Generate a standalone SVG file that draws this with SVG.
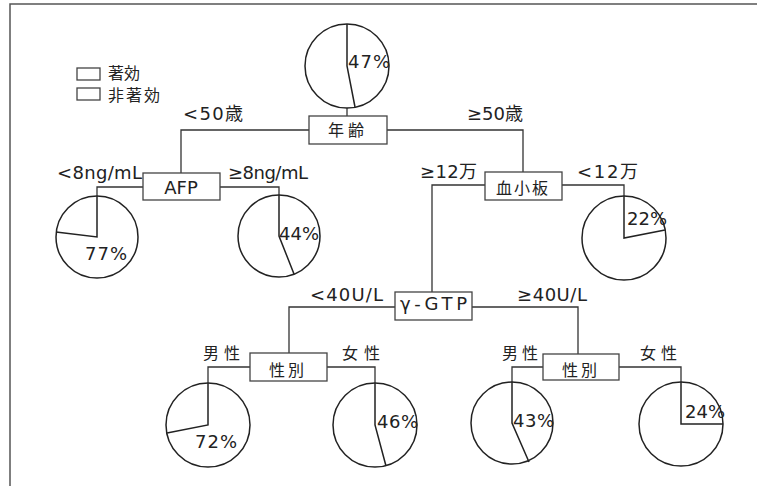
<svg xmlns="http://www.w3.org/2000/svg" width="757" height="486" viewBox="0 0 757 486">
<style>
.frame{fill:none;stroke:#555;stroke-width:1.5}
.conn{fill:none;stroke:#333;stroke-width:1.3}
.box{fill:#fff;stroke:#444;stroke-width:1.3}
.pie{fill:#fff;stroke:#222;stroke-width:1.5}
.rad{fill:none;stroke:#222;stroke-width:1.5}
.lbl{font-family:"DejaVu Sans","Noto Sans CJK JP",sans-serif;font-size:18px;fill:#222}
.cjk{font-family:"Noto Sans CJK JP","DejaVu Sans",sans-serif;font-size:16px;fill:#222}
.pct{font-family:"DejaVu Sans",sans-serif;font-size:18px;fill:#222}
</style>
<rect width="757" height="486" fill="#fff"/>
<path class="frame" d="M10,486 V4 H757"/>

<g id="legend">
<rect class="box" x="77" y="68" width="23" height="12"/>
<rect class="box" x="77" y="88" width="23" height="12"/>
<text class="cjk" x="108" y="79" font-size="14">著効</text>
<text class="cjk" x="108" y="101" font-size="15" letter-spacing="2">非著効</text>
</g>

<g id="connectors">
<path class="conn" d="M347,108 V116"/>
<path class="conn" d="M309,130 H181 V173"/>
<path class="conn" d="M387,130 H523 V172"/>
<path class="conn" d="M143,187 H97 V196"/>
<path class="conn" d="M220,187 H279 V195"/>
<path class="conn" d="M485,185 H432 V292"/>
<path class="conn" d="M562,185 H624 V196"/>
<path class="conn" d="M395,307 H289 V353"/>
<path class="conn" d="M472,307 H578 V354"/>
<path class="conn" d="M250,367 H208 V383"/>
<path class="conn" d="M327,367 H375 V383"/>
<path class="conn" d="M543,367 H512 V382"/>
<path class="conn" d="M619,367 H681 V382"/>
</g>

<g id="edge-labels">
<text class="lbl" x="183" y="120" textLength="60">&lt;50歳</text>
<text class="lbl" x="467" y="120" textLength="56">≥50歳</text>
<text class="lbl" x="57" y="179" textLength="85">&lt;8ng/mL</text>
<text class="lbl" x="228" y="179" textLength="80">≥8ng/mL</text>
<text class="lbl" x="420" y="178" textLength="57">≥12万</text>
<text class="lbl" x="577" y="178" textLength="61">&lt;12万</text>
<text class="lbl" x="310" y="301" textLength="73">&lt;40U/L</text>
<text class="lbl" x="517" y="301" textLength="70">≥40U/L</text>
<text class="cjk" x="203" y="359" font-size="17" textLength="37">男性</text>
<text class="cjk" x="342" y="359" font-size="17" textLength="38">女性</text>
<text class="cjk" x="502" y="359" font-size="17" textLength="36">男性</text>
<text class="cjk" x="640" y="359" font-size="17" textLength="37">女性</text>
</g>

<g id="pie-all">
<circle class="pie" cx="347" cy="66" r="42"/>
<polyline class="rad" points="347,24 347,66 355,107"/>
<text class="pct" x="348" y="68" textLength="42">47%</text>
</g>

<g id="node-age">
<rect class="box" x="309" y="116" width="78" height="28"/>
<text class="cjk" x="348" y="136" text-anchor="middle" letter-spacing="4">年齢</text>
</g>

<g id="node-afp">
<rect class="box" x="143" y="173" width="77" height="27"/>
<text class="lbl" x="181" y="194" text-anchor="middle">AFP</text>
</g>

<g id="pie-afp-low">
<circle class="pie" cx="97" cy="237" r="41"/>
<polyline class="rad" points="97,196 97,237 56,232"/>
<text class="pct" x="85" y="260" textLength="42">77%</text>
</g>

<g id="pie-afp-high">
<circle class="pie" cx="279" cy="236" r="41"/>
<polyline class="rad" points="279,195 279,236 294,274"/>
<text class="pct" x="279" y="240" textLength="40">44%</text>
</g>

<g id="node-plt">
<rect class="box" x="485" y="172" width="77" height="28"/>
<text class="cjk" x="523" y="194" text-anchor="middle" letter-spacing="2">血小板</text>
</g>

<g id="pie-plt-low">
<circle class="pie" cx="624" cy="238" r="42"/>
<polyline class="rad" points="624,196 624,238 665,230"/>
<text class="pct" x="627" y="225" textLength="40">22%</text>
</g>

<g id="node-ggtp">
<rect class="box" x="395" y="292" width="77" height="28"/>
<text class="lbl" x="400" y="310" textLength="67">γ-GTP</text>
</g>

<g id="node-sex-left">
<rect class="box" x="250" y="353" width="77" height="28"/>
<text class="cjk" x="288" y="376" text-anchor="middle" letter-spacing="3">性別</text>
</g>

<g id="pie-left-male">
<circle class="pie" cx="208" cy="425" r="42"/>
<polyline class="rad" points="208,383 208,425 167,433"/>
<text class="pct" x="195" y="448" textLength="42">72%</text>
</g>

<g id="pie-left-female">
<circle class="pie" cx="375" cy="425" r="42"/>
<polyline class="rad" points="375,383 375,425 386,466"/>
<text class="pct" x="377" y="428" textLength="41">46%</text>
</g>

<g id="node-sex-right">
<rect class="box" x="543" y="354" width="76" height="26"/>
<text class="cjk" x="581" y="376" text-anchor="middle" letter-spacing="3">性別</text>
</g>

<g id="pie-right-male">
<circle class="pie" cx="512" cy="423" r="41"/>
<polyline class="rad" points="512,382 512,423 529,462"/>
<text class="pct" x="513" y="427" textLength="41">43%</text>
</g>

<g id="pie-right-female">
<circle class="pie" cx="681" cy="424" r="42"/>
<polyline class="rad" points="681,382 681,424 723,424"/>
<text class="pct" x="685" y="418" textLength="40">24%</text>
</g>
</svg>
